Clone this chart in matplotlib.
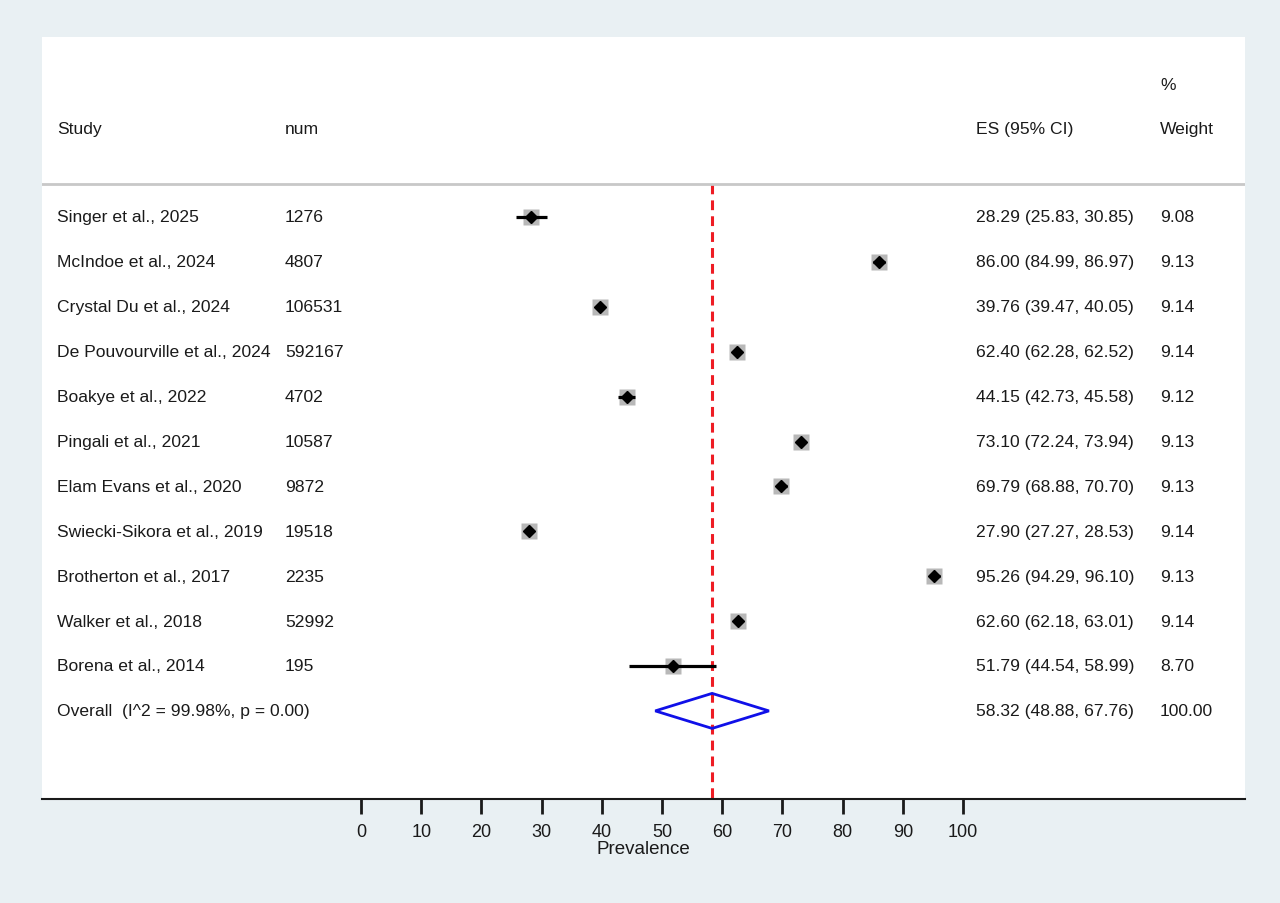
import numpy as np
import matplotlib
matplotlib.use("Agg")
from matplotlib import pyplot as plt
from matplotlib.patches import Polygon
from matplotlib import transforms

plt.rcParams['font.family'] = ['Liberation Sans', 'DejaVu Sans']

studies = ["Singer et al., 2025", "McIndoe et al., 2024", "Crystal Du et al., 2024",
           "De Pouvourville et al., 2024", "Boakye et al., 2022", "Pingali et al., 2021",
           "Elam Evans et al., 2020", "Swiecki-Sikora et al., 2019", "Brotherton et al., 2017",
           "Walker et al., 2018", "Borena et al., 2014"]
num = ["1276", "4807", "106531", "592167", "4702", "10587", "9872", "19518", "2235", "52992", "195"]
es = [28.29, 86.00, 39.76, 62.40, 44.15, 73.10, 69.79, 27.90, 95.26, 62.60, 51.79]
lo = [25.83, 84.99, 39.47, 62.28, 42.73, 72.24, 68.88, 27.27, 94.29, 62.18, 44.54]
hi = [30.85, 86.97, 40.05, 62.52, 45.58, 73.94, 70.70, 28.53, 96.10, 63.01, 58.99]
weight = [9.08, 9.13, 9.14, 9.14, 9.12, 9.13, 9.13, 9.14, 9.13, 9.14, 8.70]
overall_label = "Overall  (I^2 = 99.98%, p = 0.00)"
overall_es, overall_lo, overall_hi = 58.32, 48.88, 67.76
xticks = [0, 10, 20, 30, 40, 50, 60, 70, 80, 90, 100]

bg = '#e9f0f3'
fig = plt.figure(figsize=(12.8, 9.04), dpi=100, facecolor=bg)
W, H = 1280, 904
ax = fig.add_axes([42 / W, 1 - 800 / H, (1245 - 42) / W, (800 - 38) / H])
ax.set_facecolor('white')

px = 6.02  # pixels per unit
ax.set_xlim((42 - 361) / px, (1245 - 361) / px)
rs = 44.9
ax.set_ylim((800 - 218) / rs, (38 - 218) / rs)

for s in ['top', 'left', 'right']:
    ax.spines[s].set_visible(False)
ax.spines['bottom'].set_linewidth(1.5)
ax.spines['bottom'].set_color('#1a1a1a')
ax.set_yticks([])
ax.set_xticks(xticks)
ax.tick_params(axis='x', direction='out', length=11, width=2, labelsize=13, pad=6,
               color='#1a1a1a', labelcolor='#1a1a1a')
ax.set_xlabel("Prevalence", fontsize=13.5, labelpad=0, color='#1a1a1a')

n = len(studies)
rows = np.arange(n)
fs = 12.6
tc = '#1a1a1a'
tr = transforms.blended_transform_factory(ax.transAxes, ax.transData)

# header
hy = -1.98
ax.text(15 / 1203, hy, "Study", transform=tr, fontsize=fs, va='center', color=tc)
ax.text(243 / 1203, hy, "num", transform=tr, fontsize=fs, va='center', color=tc)
ax.text(934 / 1203, hy, "ES (95% CI)", transform=tr, fontsize=fs, va='center', color=tc)
ax.text(1118 / 1203, hy, "Weight", transform=tr, fontsize=fs, va='center', color=tc)
ax.text(1118 / 1203, -2.96, "%", transform=tr, fontsize=fs, va='center', color=tc)
ax.axhline(-0.735, color='#c8c8c8', lw=2)

# red reference line
ax.plot([overall_es, overall_es], [-0.735, (800 - 218) / rs], color='#ee1c24', lw=2.2,
        linestyle=(0, (3.2, 2)), zorder=1)

for i in range(n):
    ax.plot([lo[i], hi[i]], [i, i], color='black', lw=2.3, zorder=3,
            solid_capstyle='butt')
    ax.plot(es[i], i, marker='s', ms=11.5 * np.sqrt(weight[i] / 9.14), color='#b8b8b8',
            mec='none', zorder=2)
    ax.plot(es[i], i, marker='D', ms=6.4, color='black', mec='black', zorder=4)
    ax.text(15 / 1203, i, studies[i], transform=tr, fontsize=fs, va='center', color=tc)
    ax.text(243 / 1203, i, num[i], transform=tr, fontsize=fs, va='center', color=tc)
    ax.text(934 / 1203, i, "%.2f (%.2f, %.2f)" % (es[i], lo[i], hi[i]), transform=tr,
            fontsize=fs, va='center', color=tc)
    ax.text(1118 / 1203, i, "%.2f" % weight[i], transform=tr, fontsize=fs, va='center',
            color=tc)

oy = n
dh = 0.39
ax.add_patch(Polygon([[overall_lo, oy], [overall_es, oy - dh], [overall_hi, oy],
                      [overall_es, oy + dh]], closed=True, fill=False,
                     edgecolor='#1010e8', lw=2, zorder=3))
ax.text(15 / 1203, oy, overall_label, transform=tr, fontsize=fs, va='center', color=tc)
ax.text(934 / 1203, oy, "%.2f (%.2f, %.2f)" % (overall_es, overall_lo, overall_hi),
        transform=tr, fontsize=fs, va='center', color=tc)
ax.text(1118 / 1203, oy, "100.00", transform=tr, fontsize=fs, va='center', color=tc)

fig.savefig("out.png", dpi=100, facecolor=bg)
